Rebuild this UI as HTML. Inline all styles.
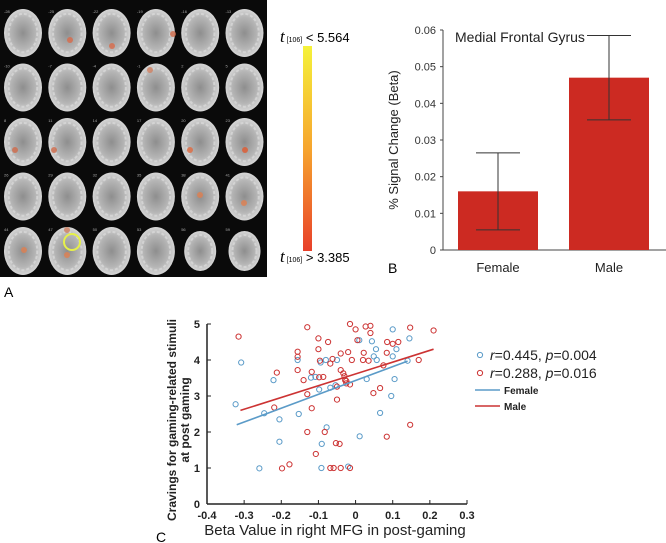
<!DOCTYPE html>
<html><head><meta charset="utf-8"><style>
body{margin:0;background:#fff;width:666px;height:543px;overflow:hidden;font-family:"Liberation Sans",sans-serif}
svg{position:absolute;left:0;top:0}
</style></head><body>
<svg width="666" height="543" viewBox="0 0 666 543">
<defs>
<radialGradient id="bg" cx="50%" cy="50%" r="55%"><stop offset="0" stop-color="#8e8e8e"/><stop offset="0.6" stop-color="#b5b5b5"/><stop offset="1" stop-color="#e0e0e0"/></radialGradient>
<linearGradient id="cb" x1="0" y1="0" x2="0" y2="1"><stop offset="0" stop-color="#f5f23a"/><stop offset="0.5" stop-color="#f6a52e"/><stop offset="1" stop-color="#e8402a"/></linearGradient>
</defs>
<rect x="0" y="0" width="267" height="277" fill="#0a0a0a"/>
<g id="brains"></g>
<rect x="303" y="46" width="9" height="205" fill="url(#cb)"/>
<text x="280" y="42" font-size="13"><tspan font-family="Liberation Serif" font-style="italic" font-size="17">t</tspan><tspan font-size="7"> [106]</tspan> &lt; 5.564</text>
<text x="280" y="262" font-size="13"><tspan font-family="Liberation Serif" font-style="italic" font-size="17">t</tspan><tspan font-size="7"> [106]</tspan> &gt; 3.385</text>
<text x="4" y="297" font-size="14">A</text>
<text x="388" y="273" font-size="14">B</text>
<text x="156" y="542" font-size="14">C</text>
<g id="bar"></g>
<g id="sc"></g>
</svg>
<script>
const NS="http://www.w3.org/2000/svg";
function mk(p,t,a,txt){const e=document.createElementNS(NS,t);for(const k in a)e.setAttribute(k,a[k]);if(txt!==undefined)e.textContent=txt;p.appendChild(e);return e;}
// brains
const sliceLabels=["-28","-25","-22","-19","-16","-13","-10","-7","-4","-1","2","5","8","11","14","17","20","23","26","29","32","35","38","41","44","47","50","53","56","59"];
const brainG=document.getElementById('brains');
sliceLabels.forEach((s,i)=>{const c=i%6,r=Math.floor(i/6);const cx=23+c*44.3,cy=33+r*54.5;
 const rx=r===4&&c>=4?16:19,ry=r===4&&c>=4?20:24;
 const e=mk(brainG,'ellipse',{cx:cx,cy:cy,rx:rx,ry:ry,fill:'url(#bg)'});
 
 
 mk(brainG,'ellipse',{cx:cx,cy:cy,rx:rx*0.75,ry:ry*0.8,fill:'none',stroke:'#dcdcdc','stroke-width':2,'stroke-dasharray':'3 2',opacity:0.7});
 mk(brainG,'text',{x:cx-19,y:cy-20,'font-size':4,fill:'#aaa'},s);
});
[[70,40,'#d86a4a'],[112,46,'#d86a4a'],[173,34,'#d06a4a'],[190,150,'#e06a40'],[150,70,'#d08060'],[15,150,'#d06a4a'],[54,150,'#d06a4a'],[200,195,'#e08050'],[244,203,'#e08050'],[245,150,'#e05a30'],[24,250,'#e08050'],[67,255,'#e08050'],[67,230,'#d08060']].forEach(p=>{const e=mk(brainG,'circle',{cx:p[0],cy:p[1],r:3,fill:p[2],opacity:0.8});});
const hl=mk(brainG,'circle',{cx:72,cy:242,r:8,fill:'none',stroke:'#e6f04a','stroke-width':2});



// bar chart
const barCats=["Female","Male"];
const barVals=[0.016,0.047];
const barLo=[0.0055,0.0355];
const barHi=[0.0265,0.0585];
const barTicks=[0,0.01,0.02,0.03,0.04,0.05,0.06];
const bg=document.getElementById('bar');
const by=v=>250-v/0.06*220;
const bx0=[458,569];
mk(bg,'line',{x1:443,y1:30,x2:443,y2:250,stroke:'#444'});
mk(bg,'line',{x1:443,y1:250,x2:666,y2:250,stroke:'#444'});
barTicks.forEach(t=>{mk(bg,'line',{x1:440,y1:by(t),x2:443,y2:by(t),stroke:'#444'});const l=mk(bg,'text',{x:436,y:by(t)+4,'font-size':11,'text-anchor':'end',fill:'#333'},String(t));});
barVals.forEach((v,i)=>{const r=mk(bg,'rect',{x:bx0[i],y:by(v),width:80,height:250-by(v),fill:'#cc2a22'});
 const cx=bx0[i]+40;mk(bg,'line',{x1:cx,y1:by(barLo[i]),x2:cx,y2:by(barHi[i]),stroke:'#333'});
 mk(bg,'line',{x1:cx-22,y1:by(barLo[i]),x2:cx+22,y2:by(barLo[i]),stroke:'#333'});
 mk(bg,'line',{x1:cx-22,y1:by(barHi[i]),x2:cx+22,y2:by(barHi[i]),stroke:'#333'});
 const l=mk(bg,'text',{x:cx,y:272,'font-size':13,'text-anchor':'middle',fill:'#222'},barCats[i]);});
let t=mk(bg,'text',{x:455,y:42,'font-size':14,fill:'#222'},'Medial Frontal Gyrus');
t=mk(bg,'text',{x:0,y:0,'font-size':13,fill:'#222',transform:'translate(398,140) rotate(-90)','text-anchor':'middle'},'% Signal Change    (Beta)');

// scatter
const femX=[-0.323,-0.308,-0.259,-0.246,-0.221,-0.205,-0.205,-0.156,-0.153,-0.12,-0.108,-0.098,-0.094,-0.091,-0.092,-0.078,-0.08,-0.068,-0.05,-0.054,0.01,0.044,0.1,0.145,0.055,0.11,0.049,0.057,0.1,0.14,0.03,0.105,0.096,0.066,0.011,-0.02];
const femY=[2.77,3.93,0.99,2.52,3.44,2.35,1.73,4.0,2.5,3.51,3.53,3.18,3.93,1.67,1.0,2.13,4.0,3.23,4.0,3.3,4.55,4.52,4.85,4.6,4.3,4.3,4.1,4.0,4.1,3.98,3.47,3.47,3.0,2.53,1.88,1.04];
const maleX=[-0.315,-0.212,-0.219,-0.198,-0.178,-0.156,-0.156,-0.156,-0.14,-0.13,-0.13,-0.13,-0.118,-0.118,-0.1,-0.1,-0.096,-0.098,-0.107,-0.083,-0.087,-0.074,-0.068,-0.062,-0.068,-0.059,-0.04,-0.05,-0.05,-0.043,-0.04,-0.04,-0.033,-0.028,-0.02,-0.025,-0.015,0.0,0.027,0.04,0.04,0.005,0.085,0.1,0.115,0.147,0.21,0.022,0.084,-0.01,0.02,0.035,0.17,0.075,-0.03,-0.025,-0.015,0.048,0.066,0.147,0.084,-0.053,-0.015];
const maleY=[4.65,3.65,2.68,0.99,1.1,4.23,4.09,3.72,3.44,4.91,3.05,2.0,3.67,2.66,4.6,4.3,3.98,3.52,1.39,2.0,3.53,4.5,3.9,4.03,1.0,1.0,1.0,3.26,2.9,1.67,4.18,3.72,3.63,3.44,4.22,3.35,5.0,4.85,4.93,4.95,4.75,4.55,4.5,4.45,4.5,4.9,4.82,4.2,4.2,4.0,4.0,3.98,4.0,3.85,3.55,3.42,3.32,3.08,3.22,2.2,1.87,1.69,1.0];
const femLineX=[-0.32,0.14];const femLineY=[2.2,3.97];
const maleLineX=[-0.31,0.21];const maleLineY=[2.6,4.3];
const xTicks=[-0.4,-0.3,-0.2,-0.1,0,0.1,0.2,0.3];
const yTicks=[0,1,2,3,4,5];
const sg=document.getElementById('sc');
const sx=v=>207+(v+0.4)/0.7*260, sy=v=>504-v/5*180;
mk(sg,'line',{x1:207,y1:324,x2:207,y2:504,stroke:'#222','stroke-width':1.5});
mk(sg,'line',{x1:207,y1:504,x2:467,y2:504,stroke:'#222','stroke-width':1.5});
xTicks.forEach(v=>{mk(sg,'line',{x1:sx(v),y1:504,x2:sx(v),y2:500,stroke:'#222'});const l=mk(sg,'text',{x:sx(v),y:519,'font-size':11,'font-weight':'bold','text-anchor':'middle',fill:'#222'},String(v));});
yTicks.forEach(v=>{mk(sg,'line',{x1:207,y1:sy(v),x2:211,y2:sy(v),stroke:'#222'});const l=mk(sg,'text',{x:200,y:sy(v)+4,'font-size':11,'font-weight':'bold','text-anchor':'end',fill:'#222'},String(v));});
femX.forEach((x,i)=>{const c=mk(sg,'circle',{cx:sx(x),cy:sy(femY[i]),r:2.6,fill:'none',stroke:'#5b9bc8','stroke-width':1});});
maleX.forEach((x,i)=>{const c=mk(sg,'circle',{cx:sx(x),cy:sy(maleY[i]),r:2.6,fill:'none',stroke:'#cc3333','stroke-width':1});});
let ln=mk(sg,'line',{x1:sx(femLineX[0]),y1:sy(femLineY[0]),x2:sx(femLineX[1]),y2:sy(femLineY[1]),stroke:'#5b9bc8','stroke-width':1.6});
ln=mk(sg,'line',{x1:sx(maleLineX[0]),y1:sy(maleLineY[0]),x2:sx(maleLineX[1]),y2:sy(maleLineY[1]),stroke:'#cc3333','stroke-width':1.6});
t=mk(sg,'text',{x:335,y:535,'font-size':15,'text-anchor':'middle',fill:'#222'},'Beta Value in right MFG in post-gaming');
t=mk(sg,'text',{x:0,y:0,'font-size':12,'font-weight':'bold','text-anchor':'middle',fill:'#222',transform:'translate(176,420) rotate(-90)'},'Cravings for gaming-related stimuli');
t=mk(sg,'text',{x:0,y:0,'font-size':12,'font-weight':'bold','text-anchor':'middle',fill:'#222',transform:'translate(189,420) rotate(-90)'},'at post gaming');
// legend
const lg=mk(sg,'g',{});
mk(lg,'circle',{cx:480,cy:355,r:2.6,fill:'none',stroke:'#5b9bc8'});
mk(lg,'circle',{cx:480,cy:373,r:2.6,fill:'none',stroke:'#cc3333'});
mk(lg,'text',{x:490,y:360,'font-size':14,fill:'#222'}).innerHTML='<tspan font-style="italic">r</tspan>=0.445, <tspan font-style="italic">p</tspan>=0.004';
mk(lg,'text',{x:490,y:378,'font-size':14,fill:'#222'}).innerHTML='<tspan font-style="italic">r</tspan>=0.288, <tspan font-style="italic">p</tspan>=0.016';
mk(lg,'line',{x1:475,y1:390,x2:500,y2:390,stroke:'#5b9bc8','stroke-width':1.6});
mk(lg,'line',{x1:475,y1:406,x2:500,y2:406,stroke:'#cc3333','stroke-width':1.6});
mk(lg,'text',{x:504,y:394,'font-size':10,'font-weight':'bold',fill:'#222'},'Female');
mk(lg,'text',{x:504,y:410,'font-size':10,'font-weight':'bold',fill:'#222'},'Male');
</script>
</body></html>
